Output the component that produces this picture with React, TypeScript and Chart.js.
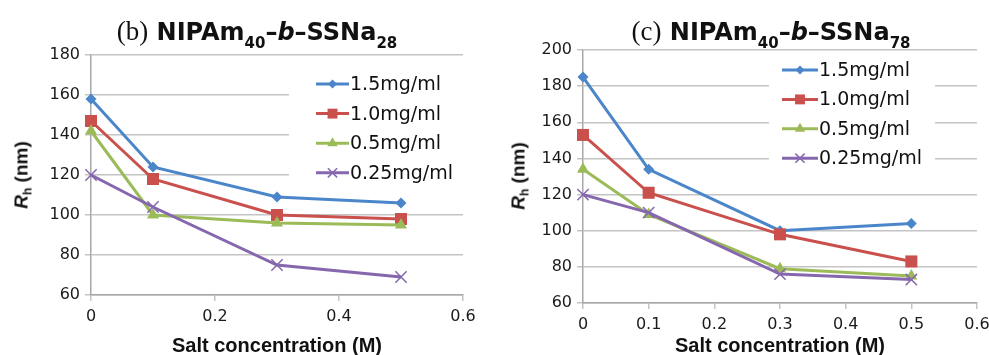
import React, { useEffect, useRef } from 'react';
import { Chart, registerables } from 'chart.js';

Chart.register(...registerables);

// ---- data ----
const saltB = [0, 0.1, 0.3, 0.5];
const b15 = [158, 124, 109, 106];
const b10 = [147, 118, 100, 98];
const b05 = [142, 100, 96, 95];
const b025 = [120, 104, 75, 69];

const saltC = [0, 0.1, 0.3, 0.5];
const c15 = [185, 134, 100, 104];
const c10 = [153, 121, 98, 83];
const c05 = [134, 109, 79, 75];
const c025 = [120, 110, 76, 73];

const seriesLabels = ['1.5mg/ml', '1.0mg/ml', '0.5mg/ml', '0.25mg/ml'];
const xTitle = 'Salt concentration (M)';
const yRangeB = [60, 180];
const yRangeC = [60, 200];
const xRange = [0, 0.6];

// ---- styles ----
const lineColors = ['#4A86C9', '#C9504C', '#9BBB59', '#8667AE'];
const pointStyles = ['rectRot', 'rect', 'triangle', 'crossRot'];
const pointRadii = [5.5, 8.5, 7, 8];
const legendRadii = [4.5, 7, 6, 6.5];
const GRID = '#c4c4c4';
const AXIS = '#a8a8a8';
const TICK_FONT = { family: 'DejaVu Sans', size: 16 };
const LEGEND_FONT = '19px "DejaVu Sans"';
const AXIS_TITLE_FONT = { family: 'Liberation Sans', size: 20, weight: 'bold' as const };

function drawMarker(ctx: CanvasRenderingContext2D, style: string, x: number, y: number, r: number, color: string) {
  ctx.save();
  ctx.fillStyle = color;
  ctx.strokeStyle = color;
  ctx.lineWidth = 1.5;
  ctx.beginPath();
  if (style === 'rectRot') {
    ctx.moveTo(x - r, y); ctx.lineTo(x, y - r); ctx.lineTo(x + r, y); ctx.lineTo(x, y + r); ctx.closePath(); ctx.fill();
  } else if (style === 'rect') {
    const s = r * Math.SQRT1_2;
    ctx.rect(x - s, y - s, 2 * s, 2 * s); ctx.fill();
  } else if (style === 'triangle') {
    ctx.moveTo(x, y - r); ctx.lineTo(x + 0.866 * r, y + 0.5 * r); ctx.lineTo(x - 0.866 * r, y + 0.5 * r); ctx.closePath(); ctx.fill();
  } else {
    const s = r * Math.SQRT1_2;
    ctx.moveTo(x - s, y - s); ctx.lineTo(x + s, y + s); ctx.moveTo(x + s, y - s); ctx.lineTo(x - s, y + s); ctx.stroke();
  }
  ctx.restore();
}

const insideLegend = {
  id: 'insideLegend',
  afterDatasetsDraw(chart: any, _args: any, opts: any) {
    const ctx: CanvasRenderingContext2D = chart.ctx;
    const { box, x0, y0, rowH, lineLen } = opts;
    ctx.save();
    ctx.fillStyle = '#ffffff';
    ctx.fillRect(box[0], box[1], box[2], box[3]);
    chart.data.datasets.forEach((ds: any, i: number) => {
      const y = y0 + i * rowH;
      ctx.strokeStyle = ds.borderColor;
      ctx.lineWidth = 3;
      ctx.beginPath();
      ctx.moveTo(x0, y);
      ctx.lineTo(x0 + lineLen, y);
      ctx.stroke();
      drawMarker(ctx, ds.pointStyle, x0 + lineLen / 2, y, legendRadii[i], ds.borderColor);
      ctx.fillStyle = '#111';
      ctx.font = LEGEND_FONT;
      ctx.textBaseline = 'middle';
      ctx.textAlign = 'left';
      ctx.fillText(ds.label, x0 + lineLen + 1, y + 1);
    });
    ctx.restore();
  },
};

function buildDatasets(xs: number[], ys: number[][]) {
  return ys.map((vals, i) => ({
    label: seriesLabels[i],
    data: xs.map((x, j) => ({ x, y: vals[j] })),
    borderColor: lineColors[i],
    backgroundColor: lineColors[i],
    pointBackgroundColor: lineColors[i],
    pointBorderColor: lineColors[i],
    pointBorderWidth: i === 3 ? 1.5 : 0,
    pointStyle: pointStyles[i],
    pointRadius: pointRadii[i],
    pointHoverRadius: pointRadii[i],
    borderWidth: 3,
    showLine: true,
    tension: 0,
    clip: false,
    order: 3 - i,
  }));
}

function buildConfig(p: {
  xs: number[]; ys: number[][]; yRange: number[]; xStep: number;
  top: number; right: number; yWidth: number; xHeight: number; legend: any;
}): any {
  return {
    type: 'scatter',
    data: { datasets: buildDatasets(p.xs, p.ys) },
    plugins: [insideLegend],
    options: {
      animation: false,
      responsive: false,
      devicePixelRatio: 1,
      layout: { padding: { top: p.top, right: p.right, left: 0, bottom: 0 } },
      plugins: {
        legend: { display: false },
        tooltip: { enabled: false },
        title: { display: false },
        insideLegend: p.legend,
      },
      scales: {
        x: {
          type: 'linear',
          min: xRange[0],
          max: xRange[1],
          ticks: { stepSize: p.xStep, font: TICK_FONT, color: '#1a1a1a', padding: 6, maxRotation: 0, autoSkip: false },
          grid: { display: true, drawOnChartArea: false, drawTicks: true, tickLength: 6, color: GRID, lineWidth: 1.5 },
          border: { display: true, color: AXIS, width: 1.5 },
          title: { display: true, text: xTitle, font: AXIS_TITLE_FONT, color: '#111', padding: { top: 0, bottom: -3 } },
          afterFit: (s: any) => { s.height = p.xHeight; },
        },
        y: {
          type: 'linear',
          min: p.yRange[0],
          max: p.yRange[1],
          ticks: { stepSize: 20, font: TICK_FONT, color: '#1a1a1a', padding: 5 },
          grid: { display: true, drawTicks: true, tickLength: 6, color: GRID, lineWidth: 1.5 },
          border: { display: true, color: AXIS, width: 1.5 },
          afterFit: (s: any) => { s.width = p.yWidth; },
        },
      },
    },
  };
}

function Panel({ config, left, width }: { config: any; left: number; width: number }) {
  const ref = useRef<HTMLCanvasElement>(null);
  useEffect(() => {
    if (!ref.current) return;
    const chart = new Chart(ref.current, config);
    return () => chart.destroy();
  }, [config]);
  return (
    <div style={{ position: 'absolute', left, top: 0, width, height: 355 }}>
      <canvas ref={ref} width={width} height={355} style={{ width, height: 355, display: 'block' }} />
    </div>
  );
}

const configB = buildConfig({
  xs: saltB, ys: [b15, b10, b05, b025], yRange: yRangeB, xStep: 0.2,
  top: 55, right: 32, yWidth: 91, xHeight: 60,
  legend: { box: [289, 64, 200, 126], x0: 316, y0: 84, rowH: 29.6, lineLen: 33 },
});
const configC = buildConfig({
  xs: saltC, ys: [c15, c10, c05, c025], yRange: yRangeC, xStep: 0.1,
  top: 50, right: 38, yWidth: 88, xHeight: 52,
  legend: { box: [274, 56, 166, 116], x0: 287, y0: 70, rowH: 29.4, lineLen: 36 },
});

const sansTitle: React.CSSProperties = { fontFamily: '"DejaVu Sans"', fontWeight: 'bold', fontSize: 24 };
const subStyle: React.CSSProperties = { fontSize: 15, verticalAlign: -8, lineHeight: 0 };

function Title({ tag, sub2, cx }: { tag: string; sub2: string; cx: number }) {
  return (
    <div style={{ position: 'absolute', left: cx, top: 19.5, transform: 'translateX(-50%)', whiteSpace: 'nowrap', lineHeight: 1, color: '#111', ...sansTitle }}>
      <span style={{ fontFamily: '"Liberation Serif"', fontWeight: 'normal', fontSize: 27, lineHeight: 0 }}>{tag}</span>
      {' NIPAm'}
      <span style={subStyle}>40</span>
      {'–'}
      <i>b</i>
      {'–SSNa'}
      <span style={subStyle}>{sub2}</span>
    </div>
  );
}

function YTitle({ cx, cy }: { cx: number; cy: number }) {
  return (
    <div style={{ position: 'absolute', left: cx, top: cy, transform: 'translate(-50%, -50%) rotate(-90deg)', whiteSpace: 'nowrap', lineHeight: 1, fontFamily: '"Liberation Sans"', fontWeight: 'bold', fontSize: 19, color: '#111' }}>
      <i>R</i>
      <span style={{ fontSize: 12, verticalAlign: -4, lineHeight: 0 }}>h</span>
      {' (nm)'}
    </div>
  );
}

export default function App() {
  return (
    <div style={{ position: 'fixed', left: 0, top: 0, width: 989, height: 355, overflow: 'hidden', background: '#fff' }}>
      <Panel config={configB} left={0} width={495} />
      <Panel config={configC} left={495} width={520} />
      <Title tag="(b)" sub2="28" cx={257} />
      <Title tag="(c)" sub2="78" cx={771} />
      <YTitle cx={21} cy={175} />
      <YTitle cx={518} cy={176} />
    </div>
  );
}
